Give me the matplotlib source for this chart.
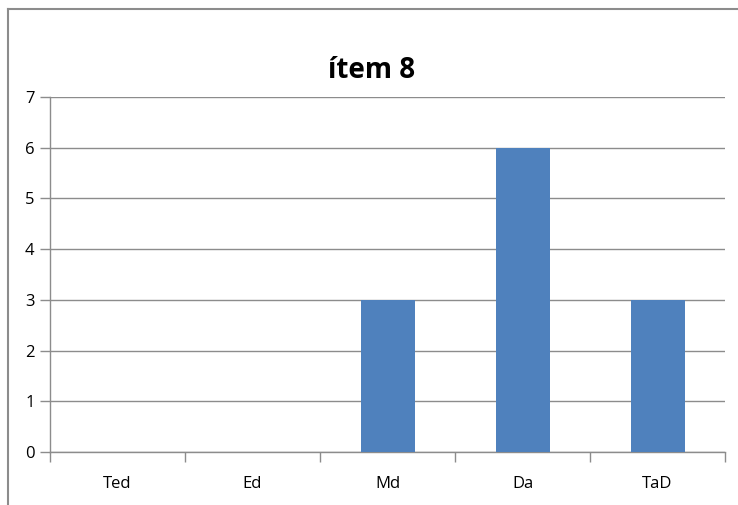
import matplotlib
matplotlib.use("Agg")
import matplotlib.pyplot as plt
from matplotlib.lines import Line2D
import numpy as np

categories = ["Ted", "Ed", "Md", "Da", "TaD"]
values = [0, 0, 3, 6, 3]
title = "ítem 8"

plt.rcParams['font.family'] = ['Open Sans', 'DejaVu Sans']

fig = plt.figure(figsize=(7.38, 5.05), dpi=100)
ax = fig.add_axes([50/738, 53/505, 675/738, 355/505])

x = np.arange(len(categories))
ax.bar(x, values, width=0.4, color="#4f81bd", zorder=3)
ax.set_xlim(-0.5, len(categories) - 0.5)
ax.set_ylim(0, 7)
ax.set_yticks(range(0, 8))
ax.yaxis.grid(True, color="#8c8c8c", linewidth=1.0, zorder=0)
ax.set_axisbelow(True)

ax.set_xticks(x)
ax.set_xticklabels(categories, fontsize=12)
ax.set_xticks(np.arange(-0.5, len(categories)), minor=True)
ax.tick_params(axis='x', which='major', length=0, pad=17)
ax.tick_params(axis='x', which='minor', length=7, color="#8c8c8c", width=1.0)
ax.tick_params(axis='y', length=7, color="#8c8c8c", width=1.0, labelsize=12, pad=4)

for s in ["top", "right"]:
    ax.spines[s].set_visible(False)
for s in ["left", "bottom"]:
    ax.spines[s].set_color("#8c8c8c")
    ax.spines[s].set_linewidth(1.0)

fig.text(372/738, 1 - 70/505, title, ha="center", va="center",
         fontsize=20, fontweight="bold")

# chart border
fig.add_artist(Line2D([8/738, 8/738], [0, 1 - 9/505], transform=fig.transFigure,
                      color="#8c8c8c", linewidth=1.5))
fig.add_artist(Line2D([8/738, 1], [1 - 9/505, 1 - 9/505], transform=fig.transFigure,
                      color="#8c8c8c", linewidth=1.5))

fig.savefig("out.png", dpi=100)
